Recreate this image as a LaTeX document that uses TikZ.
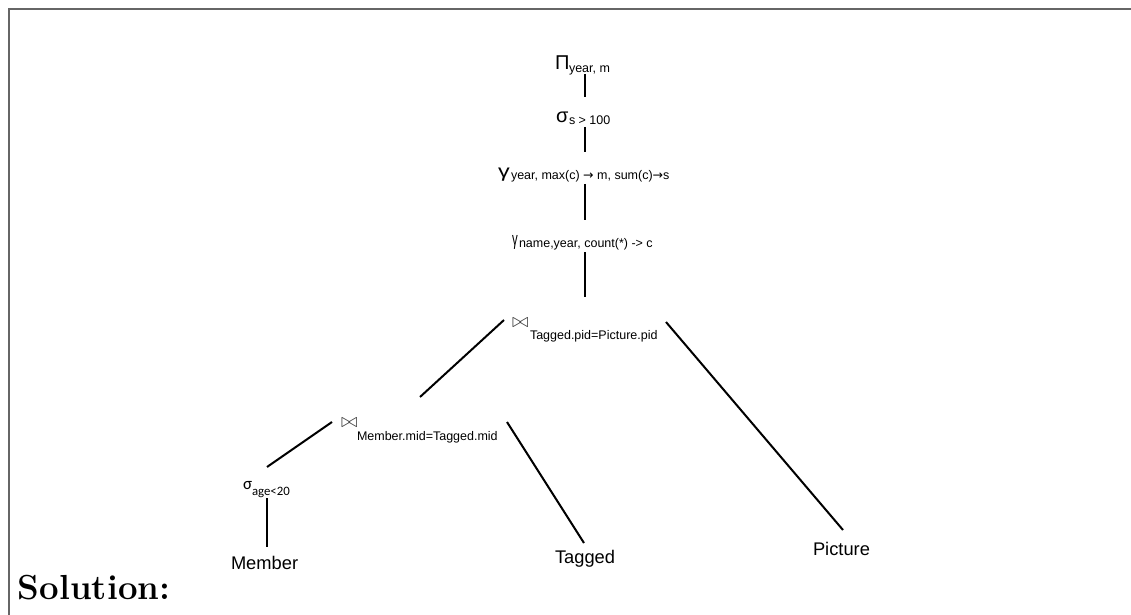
\documentclass[tikz,border=0pt]{standalone}
\usepackage{fontspec}
\newfontfamily\arialf{Liberation Sans}
\newfontfamily\calibf{Carlito}
\newfontfamily\djvf{DejaVu Sans}
\usepackage{graphicx}
\newcommand{\myarrow}{{\djvf →}}
\tikzset{
  lbl/.style={anchor=base west, inner sep=0pt, outer sep=0pt},
  opglyph/.style={lbl, font=\arialf\fontsize{10}{12}\selectfont},
  subtxt/.style={lbl, font=\arialf\fontsize{6.25}{7.5}\selectfont},
  jointxt/.style={lbl, font=\fontsize{9.6}{11}\selectfont, text=black!75},
  leaf/.style={lbl, font=\arialf\fontsize{9.15}{11}\selectfont},
  edge/.style={line width=1pt, black},
  frameline/.style={line width=0.8pt, black!60}
}
\begin{document}
\begin{tikzpicture}[x=0.5pt,y=-0.5pt]
\useasboundingbox (0,0) rectangle (1131,615);
% frame
\coordinate (fa) at (9,615);
\coordinate (fb) at (9,9);
\coordinate (fc) at (1131,9);
\draw[frameline] (fa) -- (fb) -- (fc);

% labels
\node[opglyph] (pi) at (555,70) {Π};
\node[subtxt] (pis) at (569,73) {year, m};

\node[opglyph] (sel) at (556,123) {σ};
\node[subtxt] (sels) at (569,125) {s > 100};

\node[lbl, font=\arialf\fontsize{9}{11}\selectfont] (gra) at (498,177) {\scalebox{1.3}[1]{γ}};
\node[subtxt] (gras) at (511,180) {year, max(c) \myarrow{} m, sum(c)\myarrow s};

\node[lbl, font=\arialf\fontsize{9.5}{11}\selectfont] (grb) at (512,245) {\scalebox{0.6}[1]{γ}};
\node[subtxt] (grbs) at (519,248) {name,year, count(*) -> c};

\node[jointxt] (ja) at (512,327) {$\bowtie$};
\node[subtxt] (jas) at (530,339) {Tagged.pid=Picture.pid};

\node[jointxt] (jb) at (341,427) {$\bowtie$};
\node[subtxt] (jbs) at (357,440) {Member.mid=Tagged.mid};

\node[lbl, font=\calibf\fontsize{8.5}{10}\selectfont] (sa) at (243,489) {σ};
\node[lbl, font=\calibf\fontsize{6.4}{8}\selectfont] (sas) at (252,495) {age<20};

\node[leaf] (member) at (231,569) {Member};
\node[leaf] (tagged) at (555,563) {Tagged};
\node[leaf] (picture) at (813,555) {Picture};

\node[lbl, font=\fontsize{17.4}{21}\selectfont\bfseries] (solution) at (18,599) {Solution:};

% connector end points
\coordinate (pi-b) at (585,74);
\coordinate (sel-t) at (585,97);
\coordinate (sel-b) at (585,127);
\coordinate (gra-t) at (585,152);
\coordinate (gra-b) at (585,184);
\coordinate (grb-t) at (585,220);
\coordinate (grb-b) at (585,252);
\coordinate (ja-t) at (585,297);
\coordinate (ja-l) at (504,320);
\coordinate (jb-t) at (420,397);
\coordinate (ja-r) at (666,322);
\coordinate (picture-t) at (843,530);
\coordinate (jb-l) at (332,422);
\coordinate (sa-t) at (267,467);
\coordinate (jb-r) at (507,422);
\coordinate (tagged-t) at (584,543);
\coordinate (sa-b) at (267,498);
\coordinate (member-t) at (267,547);

\draw[edge] (pi-b) -- (sel-t);
\draw[edge] (sel-b) -- (gra-t);
\draw[edge] (gra-b) -- (grb-t);
\draw[edge] (grb-b) -- (ja-t);
\draw[edge] (ja-l) -- (jb-t);
\draw[edge] (ja-r) -- (picture-t);
\draw[edge] (jb-l) -- (sa-t);
\draw[edge] (jb-r) -- (tagged-t);
\draw[edge] (sa-b) -- (member-t);
\end{tikzpicture}
\end{document}
